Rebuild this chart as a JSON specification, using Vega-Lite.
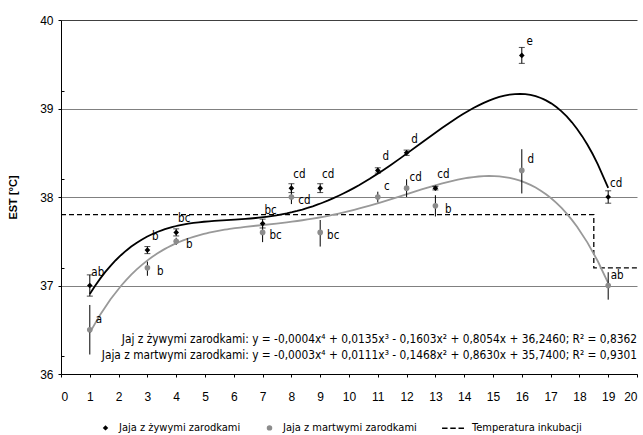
{
  "$schema": "https://vega.github.io/schema/vega-lite/v6.json",
  "width": 576,
  "height": 354,
  "autosize": {"type": "none"},
  "padding": {"left": 61, "top": 20, "right": 6, "bottom": 61},
  "config": {
    "view": {"stroke": null},
    "font": "Liberation Sans",
    "axis": {"domainColor": "black", "tickColor": "black", "labelColor": "black", "labelFont": "Liberation Sans", "labelFontSize": 12, "tickSize": 3},
    "axisX": {"tickCount": 20, "labelOverlap": false, "grid": false, "labelPadding": 14},
    "axisY": {"tickCount": 4, "labelPadding": 5}
  },
  "datasets": {
    "pts": [
      {"day": 1, "series": "Jaja z żywymi zarodkami", "mean": 37.0, "lo": 36.88, "hi": 37.12, "label": "ab"},
      {"day": 3, "series": "Jaja z żywymi zarodkami", "mean": 37.4, "lo": 37.36, "hi": 37.44, "label": "b"},
      {"day": 4, "series": "Jaja z żywymi zarodkami", "mean": 37.6, "lo": 37.56, "hi": 37.64, "label": "bc"},
      {"day": 7, "series": "Jaja z żywymi zarodkami", "mean": 37.7, "lo": 37.65, "hi": 37.75, "label": "bc"},
      {"day": 8, "series": "Jaja z żywymi zarodkami", "mean": 38.1, "lo": 38.05, "hi": 38.15, "label": "cd"},
      {"day": 9, "series": "Jaja z żywymi zarodkami", "mean": 38.1, "lo": 38.05, "hi": 38.15, "label": "cd"},
      {"day": 11, "series": "Jaja z żywymi zarodkami", "mean": 38.3, "lo": 38.27, "hi": 38.33, "label": "d"},
      {"day": 12, "series": "Jaja z żywymi zarodkami", "mean": 38.5, "lo": 38.47, "hi": 38.53, "label": "d"},
      {"day": 13, "series": "Jaja z żywymi zarodkami", "mean": 38.1, "lo": 38.08, "hi": 38.12, "label": "cd"},
      {"day": 16, "series": "Jaja z żywymi zarodkami", "mean": 39.6, "lo": 39.51, "hi": 39.69, "label": "e"},
      {"day": 19, "series": "Jaja z żywymi zarodkami", "mean": 38.0, "lo": 37.93, "hi": 38.07, "label": "cd"},
      {"day": 1, "series": "Jaja z martwymi zarodkami", "mean": 36.5, "lo": 36.22, "hi": 36.78, "label": "a"},
      {"day": 3, "series": "Jaja z martwymi zarodkami", "mean": 37.2, "lo": 37.11, "hi": 37.27, "label": "b"},
      {"day": 4, "series": "Jaja z martwymi zarodkami", "mean": 37.5, "lo": 37.46, "hi": 37.54, "label": "b"},
      {"day": 7, "series": "Jaja z martwymi zarodkami", "mean": 37.6, "lo": 37.49, "hi": 37.73, "label": "bc"},
      {"day": 8, "series": "Jaja z martwymi zarodkami", "mean": 38.0, "lo": 37.92, "hi": 38.08, "label": "cd"},
      {"day": 9, "series": "Jaja z martwymi zarodkami", "mean": 37.6, "lo": 37.44, "hi": 37.74, "label": "bc"},
      {"day": 11, "series": "Jaja z martwymi zarodkami", "mean": 38.0, "lo": 37.94, "hi": 38.06, "label": "c"},
      {"day": 12, "series": "Jaja z martwymi zarodkami", "mean": 38.1, "lo": 38.0, "hi": 38.2, "label": "cd"},
      {"day": 13, "series": "Jaja z martwymi zarodkami", "mean": 37.9, "lo": 37.78, "hi": 38.02, "label": "b"},
      {"day": 16, "series": "Jaja z martwymi zarodkami", "mean": 38.3, "lo": 38.04, "hi": 38.54, "label": "d"},
      {"day": 19, "series": "Jaja z martwymi zarodkami", "mean": 37.0, "lo": 36.84, "hi": 37.15, "label": "ab"}
    ],
    "temp": [
      {"day": 0, "t": 37.8, "o": 1},
      {"day": 18.5, "t": 37.8, "o": 2},
      {"day": 18.5, "t": 37.2, "o": 3},
      {"day": 20, "t": 37.2, "o": 4}
    ],
    "eq": [
      {"line": 1, "text": "Jaj z żywymi zarodkami: y = -0,0004x⁴ + 0,0135x³ - 0,1603x² + 0,8054x + 36,2460; R² = 0,8362"},
      {"line": 2, "text": "Jaja z martwymi zarodkami: y = -0,0003x⁴ + 0,0111x³ - 0,1468x² + 0,8630x + 35,7400; R² = 0,9301"}
    ]
  },
  "resolve": {"scale": {"y": "independent"}, "axis": {"y": "independent"}},
  "layer": [
    {
      "layer": [
        {
          "data": {"name": "temp"},
          "mark": {"type": "line", "color": "black", "strokeWidth": 1.3, "strokeDash": [5, 3]},
          "encoding": {
            "x": {
              "field": "day", "type": "quantitative",
              "scale": {"domain": [0, 20], "nice": false, "zero": false},
              "axis": {"title": null, "format": "d"}
            },
            "y": {
              "field": "t", "type": "quantitative",
              "scale": {"domain": [36, 40], "nice": false, "zero": false},
              "axis": {
                "format": "d",
                "title": "EST [°C]", "titleFontSize": 11, "titleFontWeight": "bold",
                "titleColor": "black", "titlePadding": 21, "titleFont": "Liberation Sans",
                "grid": true, "gridWidth": 1,
                "gridColor": {"condition": {"test": "datum.value === 40", "value": "#404040"}, "value": "#808080"}
              }
            },
            "order": {"field": "o"}
          }
        },
        {
          "data": {"name": "pts"},
          "transform": [
            {"filter": "datum.series === 'Jaja z martwymi zarodkami'"},
            {"regression": "mean", "on": "day", "method": "poly", "order": 4, "extent": [1, 19]}
          ],
          "mark": {"type": "line", "color": "#999999", "strokeWidth": 1.8},
          "encoding": {
            "x": {"field": "day", "type": "quantitative"},
            "y": {"field": "mean", "type": "quantitative"}
          }
        },
        {
          "data": {"name": "pts"},
          "transform": [
            {"filter": "datum.series === 'Jaja z żywymi zarodkami'"},
            {"regression": "mean", "on": "day", "method": "poly", "order": 4, "extent": [1, 19]}
          ],
          "mark": {"type": "line", "color": "black", "strokeWidth": 1.8},
          "encoding": {
            "x": {"field": "day", "type": "quantitative"},
            "y": {"field": "mean", "type": "quantitative"}
          }
        },
        {
          "data": {"name": "pts"},
          "mark": {"type": "rule", "color": "black", "strokeWidth": 1},
          "encoding": {
            "x": {"field": "day", "type": "quantitative"},
            "y": {"field": "lo", "type": "quantitative"},
            "y2": {"field": "hi"}
          }
        },
        {
          "data": {"name": "pts"},
          "transform": [{"filter": "datum.series === 'Jaja z żywymi zarodkami'"}],
          "mark": {"type": "tick", "orient": "horizontal", "color": "black", "size": 6, "thickness": 1},
          "encoding": {
            "x": {"field": "day", "type": "quantitative"},
            "y": {"field": "lo", "type": "quantitative"}
          }
        },
        {
          "data": {"name": "pts"},
          "transform": [{"filter": "datum.series === 'Jaja z żywymi zarodkami'"}],
          "mark": {"type": "tick", "orient": "horizontal", "color": "black", "size": 6, "thickness": 1},
          "encoding": {
            "x": {"field": "day", "type": "quantitative"},
            "y": {"field": "hi", "type": "quantitative"}
          }
        },
        {
          "data": {"name": "pts"},
          "mark": {"type": "point", "filled": true, "opacity": 1, "size": 32},
          "encoding": {
            "x": {"field": "day", "type": "quantitative"},
            "y": {"field": "mean", "type": "quantitative"},
            "color": {
              "field": "series", "type": "nominal",
              "scale": {
                "domain": ["Jaja z żywymi zarodkami", "Jaja z martwymi zarodkami", "Temperatura inkubacji"],
                "range": ["#000000", "#8c8c8c", "#000000"]
              },
              "legend": {
                "title": null, "orient": "none", "direction": "horizontal",
                "legendX": 39, "legendY": 402,
                "labelFont": "DejaVu Sans Condensed", "labelFontSize": 11, "labelColor": "black",
                "labelOffset": 8, "columnPadding": 22, "symbolSize": 30, "symbolOpacity": 1
              }
            },
            "shape": {
              "field": "series", "type": "nominal",
              "scale": {
                "domain": ["Jaja z żywymi zarodkami", "Jaja z martwymi zarodkami", "Temperatura inkubacji"],
                "range": ["diamond", "circle", "M-6,-0.25H-4V0.25H-6ZM-3,-0.25H-1V0.25H-3ZM0,-0.25H2V0.25H0Z"]
              }
            }
          }
        },
        {
          "data": {"name": "pts"},
          "transform": [{"filter": "datum.series === 'Jaja z żywymi zarodkami'"}],
          "mark": {"type": "text", "font": "DejaVu Sans Condensed", "fontSize": 11.5, "color": "black", "dx": 8, "dy": -13},
          "encoding": {
            "x": {"field": "day", "type": "quantitative"},
            "y": {"field": "mean", "type": "quantitative"},
            "text": {"field": "label"}
          }
        },
        {
          "data": {"name": "pts"},
          "transform": [
            {"filter": "datum.series === 'Jaja z martwymi zarodkami'"},
            {"filter": {"field": "day", "oneOf": [1, 11, 12, 16, 19]}}
          ],
          "mark": {"type": "text", "font": "DejaVu Sans Condensed", "fontSize": 11.5, "color": "black", "dx": 9, "dy": -10},
          "encoding": {
            "x": {"field": "day", "type": "quantitative"},
            "y": {"field": "mean", "type": "quantitative"},
            "text": {"field": "label"}
          }
        },
        {
          "data": {"name": "pts"},
          "transform": [
            {"filter": "datum.series === 'Jaja z martwymi zarodkami'"},
            {"filter": {"field": "day", "oneOf": [3, 4, 7, 8, 9, 13]}}
          ],
          "mark": {"type": "text", "font": "DejaVu Sans Condensed", "fontSize": 11.5, "color": "black", "dx": 13, "dy": 4},
          "encoding": {
            "x": {"field": "day", "type": "quantitative"},
            "y": {"field": "mean", "type": "quantitative"},
            "text": {"field": "label"}
          }
        },
        {
          "data": {"name": "eq"},
          "transform": [{"filter": "datum.line === 1"}],
          "mark": {"type": "text", "font": "DejaVu Sans Condensed", "fontSize": 11.8, "color": "black", "align": "right", "baseline": "middle"},
          "encoding": {
            "x": {"datum": 20, "type": "quantitative"},
            "y": {"datum": 36.39, "type": "quantitative"},
            "text": {"field": "text"}
          }
        },
        {
          "data": {"name": "eq"},
          "transform": [{"filter": "datum.line === 2"}],
          "mark": {"type": "text", "font": "DejaVu Sans Condensed", "fontSize": 11.8, "color": "black", "align": "right", "baseline": "middle"},
          "encoding": {
            "x": {"datum": 20, "type": "quantitative"},
            "y": {"datum": 36.21, "type": "quantitative"},
            "text": {"field": "text"}
          }
        }
      ]
    },
    {
      "data": {"name": "temp"},
      "mark": {"type": "rule", "opacity": 0},
      "encoding": {
        "y": {
          "field": "t", "type": "quantitative",
          "scale": {"domain": [36, 40], "nice": false, "zero": false},
          "axis": {
            "orient": "right", "offset": -576,
            "values": [36.2,36.4,36.6,36.8,37.2,37.4,37.6,37.8,38.2,38.4,38.6,38.8,39.2,39.4,39.6,39.8],
            "labels": false, "grid": false, "domain": false, "title": null,
            "ticks": true, "tickSize": 3, "tickColor": "black"
          }
        }
      }
    }
  ]
}
